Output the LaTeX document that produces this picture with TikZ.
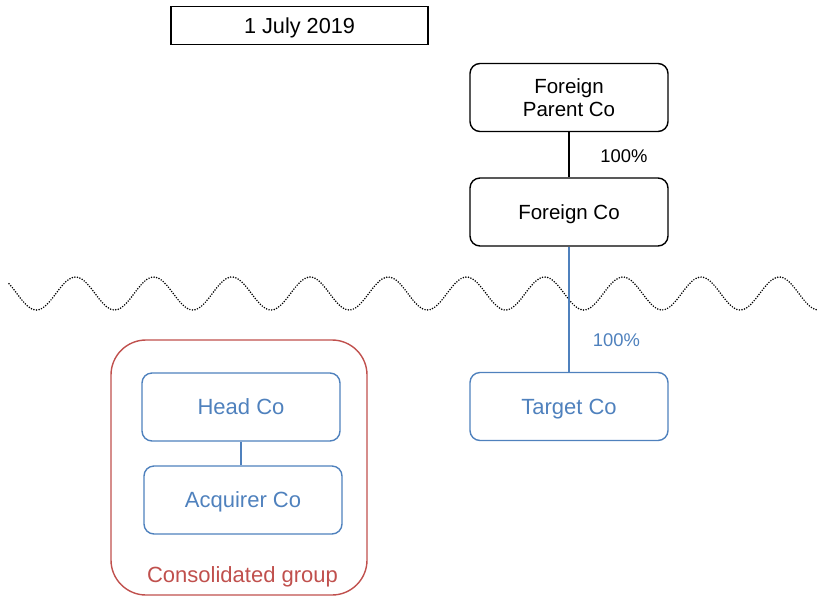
\documentclass[tikz,border=0pt]{standalone}
\usepackage{fontspec}
\setmainfont{Liberation Sans}
\definecolor{cblue}{RGB}{79,129,189}
\definecolor{cred}{RGB}{192,80,77}
\begin{document}
\begin{tikzpicture}[x=1pt,y=-1pt,
  blackbox/.style={draw=black,line width=1.4pt,rounded corners=10pt,minimum width=198pt,minimum height=68pt,inner sep=0pt,align=center,font=\fontsize{20.5}{23.5}\selectfont,text=black},
  oneline/.style={text height=#1,text depth=0pt},
  bluebox/.style={draw=cblue,line width=1.4pt,rounded corners=10pt,minimum width=198pt,minimum height=68pt,inner sep=0pt,align=center,font=\fontsize{22}{26}\selectfont,text=cblue,oneline=15.8pt},
  pct/.style={font=\fontsize{18.4}{21}\selectfont,inner sep=0pt,oneline=13.2pt}]
\useasboundingbox (0,0) rectangle (818,595);
\clip (0,0) rectangle (818,595);
% wavy border line
\draw[line width=1.7pt,dash pattern=on 0pt off 2.6pt,line cap=round,black]
  plot[domain=9:818,samples=300,smooth] (\x,{293.5-16.5*cos(4.6036*(\x+2.7))});
% date box
\node[draw=black,line width=1.4pt,minimum width=257pt,minimum height=38pt,inner sep=0pt,font=\fontsize{21.7}{25}\selectfont,oneline=15.6pt] (date) at (299.5,25.5) {1 July 2019};
% foreign side
\node[blackbox] (fpc) at (569,97.5) {Foreign\\Parent Co};
\node[blackbox,oneline=14.8pt] (fc) at (569,212) {Foreign Co};
\node[bluebox] (tc) at (569,406.5) {Target Co};
\draw[line width=1.4pt] (fpc.south) -- (fc.north);
\node[pct] (p1) at (624,155.5) {100\%};
\draw[cblue,line width=1.4pt] (fc.south) -- (tc.north);
\node[pct,text=cblue] (p2) at (616.5,339.5) {100\%};
% consolidated group
\node[draw=cred,line width=1.4pt,rounded corners=35pt,minimum width=256pt,minimum height=255pt,inner sep=0pt] (cg) at (239,467.5) {};
\node[font=\fontsize{22}{26}\selectfont,text=cred,inner sep=0pt,oneline=15.8pt] (cgl) at (242.5,574.5) {Consolidated group};
\node[bluebox] (hc) at (241,407) {Head Co};
\node[bluebox] (ac) at (243,500) {Acquirer Co};
\draw[cblue,line width=1.4pt] (hc.south) -- (hc.south |- ac.north);
\end{tikzpicture}
\end{document}
